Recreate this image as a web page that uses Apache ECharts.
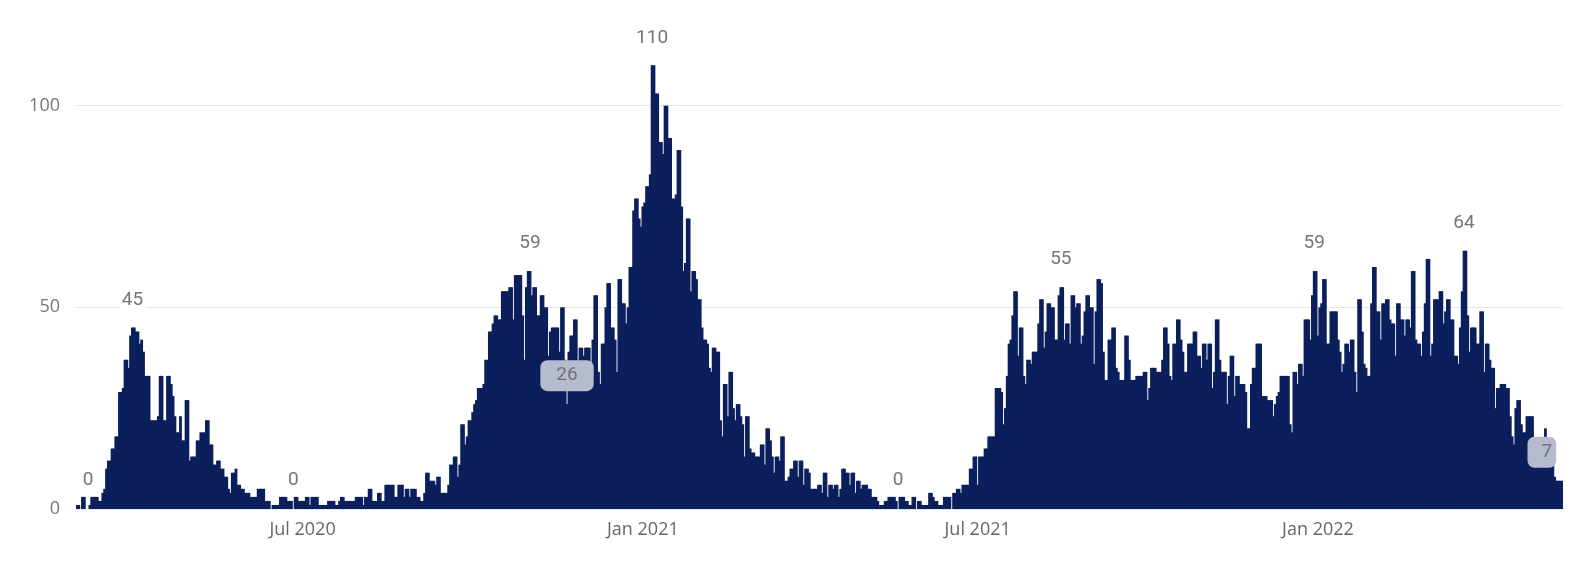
<!DOCTYPE html>
<html>
<head>
<meta charset="utf-8">
<script src="https://cdn.jsdelivr.net/npm/echarts@6/dist/echarts.min.js"></script>
<style>
  html, body { margin: 0; padding: 0; background: #fff; }
  #chart { width: 1591px; height: 561px; }
</style>
</head>
<body>
<div id="chart"></div>
<script>
// daily values, first day 2020-03-01
var startDay = Date.UTC(2020, 2, 1);

var mar_may_2020 = [1,1,0,3,3,0,0,1,3,3, 3,3,2,2,4,5,10,12,12,15, 15,18,18,29,29,30,37,37,35,43,
  45,45,44,44,41,42,39,33,33,33, 22,22,22,22,23,33,33,22,22,33, 33,31,28,23,19,19,23,17,17,27, 27,12,13,13];
var may_jul_2020 = [13,17,17,19,19,19,22,22,16,16, 11,11,12,12,10,10,8,8,5,4, 9,9,10,6,6,5,5,4,4,4,
  3,3,3,3,5,5,5,5,2,2, 2,0,1,1,1,1,3,3,3,3, 2,2,2,0,3,3,2,2,2,2, 3,3,1,3,3,3,3,1];
var jul_sep_2020 = [1,1,1,1,2,2,2,2,1,1, 2,3,3,2,2,2,2,2,2,3, 3,3,3,1,3,3,5,5,2,2,
  2,4,4,2,2,6,6,6,6,6, 3,3,6,6,6,3,5,5,3,5, 5,5,3,3,2,2,4,9,9,7, 7,7,6,8,8,4,4,4];
var sep_nov_2020 = [4,6,11,11,13,13,8,11,21,21, 16,18,22,22,24,26,27,30,30,30, 31,37,37,44,44,46,48,48,47,47,
  54,54,54,54,55,55,47,58,58,58, 58,48,37,55,59,59,53,55,55,48, 48,53,53,50,50,38,44,45,45,45, 45,39,50,50,37,26,39];
var nov_dec_2020 = [43,43,47,47,33,40,40,38,40,40, 40,34,42,53,53,34,31,41,41,50, 56,56,45,45,42,34,57,57,51,51];
var dec_feb_2021 = [46,50,60,60,74,77,77,72,70,75, 76,80,80,83,110,110,103,103,91,91, 88,100,100,92,92,77,77,78,89,89,
  75,59,61,72,72,54,59,59,57,52, 52,45,42,42,41,35,34,40,40,39, 39,22,18,31,31,23,34,34,25,22, 26,26,23,21,13,23,23];
var feb_apr_2021 = [15,14,14,13,13,13,16,16,11,20, 20,17,13,9,13,13,12,18,18,7, 7,8,10,10,12,12,8,12,12,6,
  10,10,9,5,5,5,5,6,6,4, 9,9,3,6,6,5,6,6,3,5, 10,10,9,9,6,9,9,4,7,7, 5,6,6,6,5,5,3,3];
var apr_jul_2021 = [3,2,1,1,1,2,2,3,3,3, 3,2,0,3,3,3,2,2,1,1, 3,3,0,2,2,1,1,1,1,4,
  4,3,2,2,1,1,1,3,3,3, 3,0,4,4,5,5,4,6,6,6, 6,10,10,13,13,6,13,13,13,15, 15,18,18,18,18,30,30,30];
var jul_sep_2021 = [29,21,25,33,41,42,48,54,54,38, 45,45,33,31,37,37,36,39,39,39, 46,52,52,40,44,51,51,50,50,42,
  42,53,55,55,42,46,46,41,53,53, 50,51,51,41,43,49,53,53,50,50, 36,49,57,57,56,39,32,32,42,42, 45,45,35,34,32,32,32];
var sep_nov_2021 = [43,43,37,32,32,32,33,33,33,33, 34,34,27,30,35,35,35,34,34,34, 37,45,45,41,33,32,41,41,47,47,
  42,39,34,34,41,41,41,44,44,38, 38,35,41,41,37,41,41,30,34,47, 47,37,34,34,34,26,33,38,38,28, 33,33,31,31,31,29,20,20];
var nov_jan_2022 = [31,35,35,41,41,41,28,28,28,27, 27,27,23,26,28,29,33,33,33,33, 33,21,19,34,34,31,36,36,33,47,
  47,47,42,53,59,59,43,50,51,57, 57,41,41,49,49,49,49,42,39,34, 36,41,41,39,42,42,34,29,52,52, 44,36,35,33,33,51,60,60];
var jan_may_2022 = [49,49,42,51,51,52,52,47,46,46, 38,51,51,47,47,43,47,47,45,59, 59,42,41,41,38,44,51,62,62,38,
  41,52,52,52,54,54,46,49,52,52, 47,47,38,38,36,45,54,64,64,48, 39,45,45,45,41,41,49,49,34,41,
  41,37,35,35,25,30,30,31,31,31, 30,30,23,18,16,25,27,27,21,19, 19,23,23,23,23,17,13,13,14,14,
  11,20,11,11,11,11,8,7,7,7, 7];

var values = [].concat(mar_may_2020, may_jul_2020, jul_sep_2020, sep_nov_2020, nov_dec_2020,
  dec_feb_2021, feb_apr_2021, apr_jul_2021, jul_sep_2021, sep_nov_2021, nov_jan_2022, jan_may_2022);

var days = values.map(function (v, i) {
  return new Date(startDay + i * 86400000).toISOString().slice(0, 10);
});

// x tick labels
var tickDays = ['2020-07-01', '2021-01-01', '2021-07-01', '2022-01-01'];
var tickNames = ['Jul 2020', 'Jan 2021', 'Jul 2021', 'Jan 2022'];

// which bars carry a data label
var peakLabelDays = [30, 245, 311, 532, 669, 750];
var boxLabelDays = [265, 803];
var zeroLabelDays = [6, 117, 444];

var myChart = echarts.init(document.getElementById('chart'));

var peakLabel = {
  show: true, position: 'top', distance: 17,
  color: '#757575', fontFamily: 'Roboto', fontSize: 19, fontWeight: 'normal',
  backgroundColor: '#fff', padding: [1, 3]
};
var zeroLabel = {
  show: true, position: 'top', distance: 19,
  color: '#757575', fontFamily: 'Roboto', fontSize: 19, fontWeight: 'normal'
};
var boxLabel = {
  show: true, position: 'top', distance: 13,
  color: '#727272', fontFamily: 'Roboto', fontSize: 19, fontWeight: 'normal',
  backgroundColor: '#b6bbce', borderRadius: 7, padding: [6, 16]
};

var seriesData = values.map(function (v, i) {
  if (peakLabelDays.indexOf(i) >= 0) return { value: v, label: peakLabel };
  if (zeroLabelDays.indexOf(i) >= 0) return { value: v, label: zeroLabel };
  if (boxLabelDays.indexOf(i) >= 0) {
    if (i === values.length - 1) {
      return { value: v, label: Object.assign({}, boxLabel, { padding: [6, 4, 6, 14], offset: [-20, 0] }) };
    }
    return { value: v, label: boxLabel };
  }
  return v;
});

var option = {
  animation: false,
  grid: { left: 76, right: 28, top: 25, bottom: 52 },
  xAxis: {
    type: 'category',
    data: days,
    boundaryGap: true,
    axisTick: { show: false },
    axisLine: { show: false },
    axisLabel: {
      color: '#666',
      fontFamily: 'Open Sans',
      fontSize: 18,
      margin: 12,
      interval: function (index, value) {
        return tickDays.indexOf(value) >= 0;
      },
      formatter: function (value) {
        var k = tickDays.indexOf(value);
        return k >= 0 ? tickNames[k] : '';
      }
    }
  },
  yAxis: {
    type: 'value',
    min: 0,
    max: 120,
    interval: 50,
    axisLabel: {
      color: '#777',
      fontFamily: 'Open Sans',
      fontSize: 18,
      margin: 16,
      showMaxLabel: false
    },
    splitLine: {
      showMaxLine: false,
      lineStyle: { color: '#e6e6e6', width: 1 }
    }
  },
  series: [
    {
      type: 'bar',
      data: seriesData,
      barWidth: 2.8,
      itemStyle: { color: '#0b1f5c' }
    }
  ]
};

myChart.setOption(option);
window.addEventListener('resize', function () {
  myChart.resize();
});
</script>
</body>
</html>
